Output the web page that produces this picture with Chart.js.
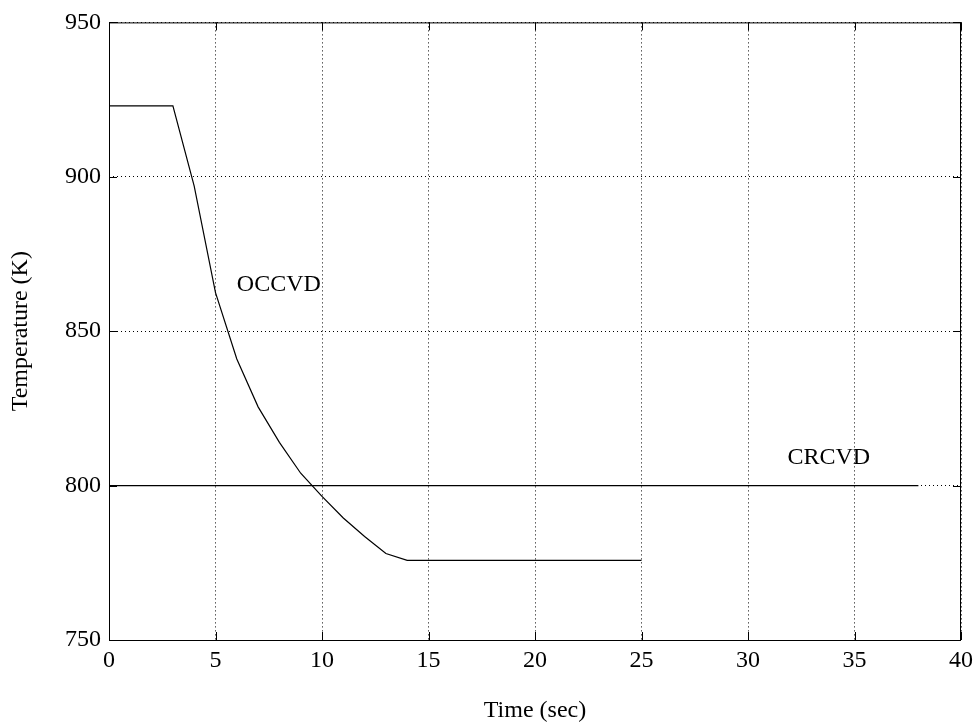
<!DOCTYPE html>
<html>
<head>
<meta charset="utf-8">
<script src="https://cdn.jsdelivr.net/npm/chart.js@4.4.0/dist/chart.umd.min.js"></script>
<style>
  html, body { margin: 0; padding: 0; background: #fff; }
  #wrap { width: 977px; height: 725px; }
</style>
</head>
<body>
<div id="wrap"><canvas id="tempChart" width="977" height="725"></canvas></div>
<script>
// --- Data ---
const occvdTime = [0, 3, 4, 5, 6, 7, 8, 9, 10, 11, 12, 13, 14, 25];
const occvdTemp = [923, 923, 897, 862.5, 841, 825.5, 814, 804, 796.5, 789.5, 783.5, 778, 775.8, 775.8];
const crcvdTime = [0, 38];
const crcvdTemp = [800, 800];

const xTicks = [0, 5, 10, 15, 20, 25, 30, 35, 40];
const yTicks = [750, 800, 850, 900, 950];

// text labels placed on the curves (data coords)
const curveLabels = [
  { text: 'OCCVD', x: 6.0, y: 865 },
  { text: 'CRCVD', x: 31.85, y: 809 }
];

const FONT = '"Liberation Serif", "Times New Roman", serif';

function toPoints(xs, ys) {
  return xs.map((x, i) => ({ x: x, y: ys[i] }));
}

// white background, box, inside ticks and curve labels
const matlabLook = {
  id: 'matlabLook',
  beforeDraw(chart) {
    const ctx = chart.ctx;
    ctx.save();
    ctx.fillStyle = '#fff';
    ctx.fillRect(0, 0, chart.width, chart.height);
    ctx.restore();
  },
  afterDatasetsDraw(chart) {
    const { ctx, chartArea: a, scales } = chart;
    ctx.save();
    ctx.strokeStyle = '#000';
    ctx.lineWidth = 1;
    ctx.strokeRect(a.left + 0.5, a.top + 0.5, a.right - a.left - 1, a.bottom - a.top);

    const tl = 8;
    ctx.beginPath();
    xTicks.forEach(v => {
      const px = Math.round(scales.x.getPixelForValue(v)) + 0.5;
      ctx.moveTo(px, a.bottom); ctx.lineTo(px, a.bottom - tl);
      ctx.moveTo(px, a.top); ctx.lineTo(px, a.top + tl);
    });
    yTicks.forEach(v => {
      const py = Math.round(scales.y.getPixelForValue(v)) + 0.5;
      ctx.moveTo(a.left, py); ctx.lineTo(a.left + tl, py);
      ctx.moveTo(a.right, py); ctx.lineTo(a.right - tl, py);
    });
    ctx.stroke();

    ctx.fillStyle = '#000';
    ctx.font = '24px ' + FONT;
    ctx.textBaseline = 'middle';
    ctx.textAlign = 'left';
    curveLabels.forEach(l => {
      ctx.fillText(l.text, scales.x.getPixelForValue(l.x), scales.y.getPixelForValue(l.y));
    });
    ctx.restore();
  }
};

new Chart(document.getElementById('tempChart').getContext('2d'), {
  type: 'scatter',
  data: {
    datasets: [{
      label: 'OCCVD',
      data: toPoints(occvdTime, occvdTemp),
      showLine: true,
      borderColor: '#000',
      borderWidth: 1.2,
      pointRadius: 0,
      tension: 0
    }, {
      label: 'CRCVD',
      data: toPoints(crcvdTime, crcvdTemp),
      showLine: true,
      borderColor: '#000',
      borderWidth: 1.2,
      pointRadius: 0,
      tension: 0
    }]
  },
  plugins: [matlabLook],
  options: {
    responsive: false,
    animation: false,
    layout: { padding: { top: 19, right: 16, left: 0, bottom: 0 } },
    plugins: { legend: { display: false }, tooltip: { enabled: false } },
    scales: {
      x: {
        type: 'linear',
        min: 0, max: 40,
        afterFit: s => { s.height = 85; s.paddingRight = 0; },
        afterBuildTicks: s => { s.ticks = xTicks.map(v => ({ value: v })); },
        ticks: { color: '#000', font: { family: FONT, size: 24 }, padding: 6, maxRotation: 0 },
        grid: { color: '#000', lineWidth: 1, drawTicks: false },
        border: { display: false, dash: [1, 3] },
        title: { display: true, text: 'Time (sec)', color: '#000', font: { family: FONT, size: 24 }, padding: { top: 0, bottom: 0 } }
      },
      y: {
        type: 'linear',
        min: 750, max: 950,
        afterFit: s => { s.width = 109; },
        afterBuildTicks: s => { s.ticks = yTicks.map(v => ({ value: v })); },
        ticks: { color: '#000', font: { family: FONT, size: 24 }, padding: 8 },
        grid: { color: '#000', lineWidth: 1, drawTicks: false },
        border: { display: false, dash: [1, 3] },
        title: { display: true, text: 'Temperature (K)', color: '#000', font: { family: FONT, size: 24 }, padding: { top: 6, bottom: 0 } }
      }
    }
  }
});
</script>
</body>
</html>
